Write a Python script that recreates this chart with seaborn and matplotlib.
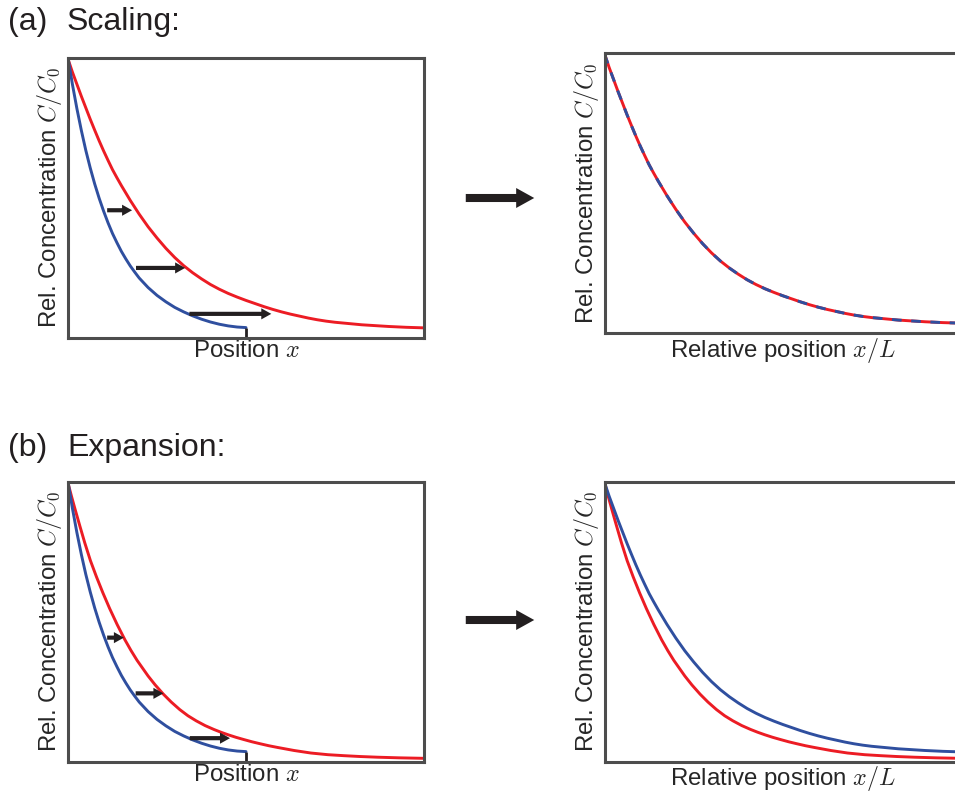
"""
Scaling vs. expansion of a concentration gradient: four schematic panels.
"""
import matplotlib
matplotlib.use("Agg")
import matplotlib.pyplot as plt
from matplotlib.patches import FancyArrowPatch
import seaborn as sns

# ==========================================
# Data (axes run 0..1 in x and y)
# ==========================================
# collapsed profile: red curve of (a), both curves of (a) right, blue of (b) right
x_wide = [0, 0.0125, 0.025, 0.0375, 0.05, 0.0625, 0.075, 0.0875, 0.1, 0.1125, 0.125, 0.1375,
          0.15, 0.175, 0.2, 0.225, 0.25, 0.275, 0.3, 0.325, 0.35, 0.375, 0.4, 0.425, 0.45,
          0.475, 0.5, 0.525, 0.55, 0.575, 0.6, 0.625, 0.65, 0.675, 0.7, 0.725, 0.75, 0.775,
          0.8, 0.825, 0.85, 0.875, 0.9, 0.925, 0.95, 0.975, 1.0]
c_wide = [0.995, 0.948, 0.905, 0.862, 0.821, 0.78, 0.741, 0.703, 0.667, 0.633, 0.60, 0.571,
          0.543, 0.49, 0.441, 0.396, 0.356, 0.319, 0.286, 0.257, 0.232, 0.21, 0.19, 0.173, 0.158,
          0.145, 0.133, 0.122, 0.111, 0.101, 0.092, 0.084, 0.077, 0.07, 0.064, 0.059, 0.055, 0.052,
          0.049, 0.046, 0.044, 0.042, 0.040, 0.0385, 0.037, 0.036, 0.035]

# short tissue (blue, left panels), ends at x = 0.5
x_short = [0, 0.0125, 0.025, 0.0375, 0.05, 0.0625, 0.075, 0.0875, 0.1, 0.1125, 0.125, 0.1375,
           0.15, 0.1625, 0.175, 0.1875, 0.2, 0.225, 0.25, 0.275, 0.3, 0.325, 0.35, 0.375, 0.4,
           0.425, 0.45, 0.475, 0.5]
c_short = [1.0, 0.904, 0.818, 0.740, 0.669, 0.606, 0.549, 0.498, 0.452, 0.410, 0.372, 0.339,
           0.308, 0.281, 0.256, 0.234, 0.213, 0.179, 0.151, 0.128, 0.108, 0.092, 0.078, 0.066,
           0.056, 0.048, 0.042, 0.038, 0.036]

# expanded gradient (red, panels b)
x_exp = [0, 0.01, 0.02, 0.033, 0.047, 0.063, 0.08, 0.098, 0.117, 0.138, 0.16, 0.177, 0.194,
         0.225, 0.245, 0.268, 0.29, 0.314, 0.337, 0.36, 0.385, 0.41, 0.43, 0.45, 0.472, 0.494,
         0.517, 0.54, 0.564, 0.588, 0.635, 0.682, 0.73, 0.775, 0.82, 0.87, 0.93, 1.0]
c_exp = [0.995, 0.947, 0.901, 0.843, 0.782, 0.718, 0.66, 0.603, 0.547, 0.49, 0.435, 0.397, 0.362,
         0.306, 0.274, 0.241, 0.213, 0.186, 0.164, 0.146, 0.129, 0.115, 0.105, 0.096, 0.087, 0.079,
         0.071, 0.064, 0.057, 0.051, 0.040, 0.031, 0.025, 0.0215, 0.0185, 0.016, 0.0138, 0.012]

# small shift arrows: (tail x, tip x, y)
arrows_a = [(0.110, 0.180, 0.455), (0.191, 0.329, 0.249), (0.341, 0.571, 0.085)]
arrows_b = [(0.110, 0.157, 0.443), (0.190, 0.268, 0.244), (0.342, 0.455, 0.084)]
tissue_end = 0.5

RED = "#EC1C24"
BLUE = "#2F4F9F"
INK = "#231F20"
FRAME = "#4D4D4D"

sns.set_theme(style="white")
plt.rcParams["font.family"] = ["Liberation Sans", "DejaVu Sans"]
plt.rcParams["mathtext.fontset"] = "cm"

LBL = 17.3
fig = plt.figure(figsize=(9.55, 7.96), dpi=100)

W, H = 0.3728, 0.3518
ax_tl = fig.add_axes([0.0712, 0.5758, W, H])
ax_tr = fig.add_axes([0.6332, 0.5817, W, H])
ax_bl = fig.add_axes([0.0712, 0.0431, W, H])
ax_br = fig.add_axes([0.6332, 0.0431, W, H])


def style(ax, xlabel):
    ax.set_xlim(0, 1)
    ax.set_ylim(0, 1)
    ax.set_xticks([])
    ax.set_yticks([])
    for sp in ax.spines.values():
        sp.set_color(FRAME)
        sp.set_linewidth(2.2)
        sp.set_visible(True)
    ax.set_xlabel(xlabel, fontsize=LBL, labelpad=2)
    ax.set_ylabel("Rel. Concentration $C/C_0$", fontsize=LBL, labelpad=3)


def small_arrows(ax, arrows):
    for x0, x1, y in arrows:
        ax.annotate("", xy=(x1, y), xytext=(x0, y),
                    arrowprops=dict(arrowstyle="simple,head_width=8,head_length=7.2,tail_width=3",
                                    mutation_scale=1, color=INK, shrinkA=0, shrinkB=0, lw=0))


def left_panel(ax, x_red, c_red, arrows):
    sns.lineplot(x=x_red, y=c_red, ax=ax, color=RED, lw=2.1)
    sns.lineplot(x=x_short, y=c_short, ax=ax, color=BLUE, lw=2.1)
    ax.plot([tissue_end, tissue_end], [0, c_short[-1]], color=INK, lw=2, solid_capstyle="butt")
    small_arrows(ax, arrows)
    style(ax, "Position $x$")


# (a) scaling
left_panel(ax_tl, x_wide, c_wide, arrows_a)
sns.lineplot(x=x_wide, y=c_wide, ax=ax_tr, color=RED, lw=2.1)
sns.lineplot(x=x_wide, y=c_wide, ax=ax_tr, color=BLUE, lw=2.1)
ax_tr.lines[-1].set_dashes((3.3, 3.3))
style(ax_tr, "Relative position $x/L$")

# (b) expansion
left_panel(ax_bl, x_exp, c_exp, arrows_b)
sns.lineplot(x=x_exp, y=c_exp, ax=ax_br, color=RED, lw=2.1)
sns.lineplot(x=x_wide, y=c_wide, ax=ax_br, color=BLUE, lw=2.1)
style(ax_br, "Relative position $x/L$")

# panel headings
TTL = 23
fig.text(8 / 955, 1 - 30 / 796, "(a)", fontsize=TTL, va="baseline", color=INK)
fig.text(67 / 955, 1 - 30 / 796, "Scaling:", fontsize=TTL, va="baseline", color=INK)
fig.text(8 / 955, 1 - 456 / 796, "(b)", fontsize=TTL, va="baseline", color=INK)
fig.text(67 / 955, 1 - 456 / 796, "Expansion:", fontsize=TTL, va="baseline", color=INK)

# big arrows between the panels
for yy in (198, 620):
    fig.patches.append(FancyArrowPatch(
        (463 / 955, 1 - yy / 796), (537 / 955, 1 - yy / 796), transform=fig.transFigure,
        arrowstyle="simple,head_width=14.4,head_length=13,tail_width=5.8",
        mutation_scale=1, color=INK, lw=0))

fig.savefig("out.png", dpi=100)
plt.close(fig)
